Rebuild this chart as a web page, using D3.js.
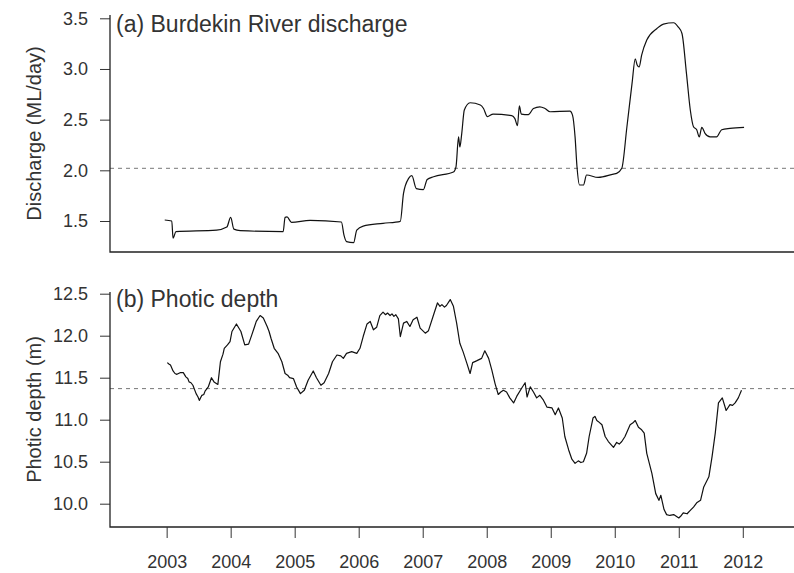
<!DOCTYPE html>
<html>
<head>
<meta charset="utf-8">
<script src="https://cdn.jsdelivr.net/npm/d3@7"></script>
<style>
  body { margin: 0; background: #fff; }
  text { font-family: "Liberation Sans", Arial, Helvetica, sans-serif; fill: #333; }
</style>
</head>
<body>
<svg id="chart" width="794" height="573"></svg>
<script>
// Axis ticks
const yearTicks = [2003, 2004, 2005, 2006, 2007, 2008, 2009, 2010, 2011, 2012];
const dischargeTicks = [1.5, 2.0, 2.5, 3.0, 3.5];
const depthTicks = [10.0, 10.5, 11.0, 11.5, 12.0, 12.5];

// Long-term reference levels (dashed lines)
const dischargeMean = 2.02;
const depthMean = 11.37;

// (a) Burdekin River discharge, decimal year and ML/day
const dischargeTime = [
  2002.97, 2003.08, 2003.10, 2003.145, 2003.78, 2003.94, 2004.00, 2004.05, 2004.15, 2004.82,
  2004.85, 2004.88, 2004.95, 2005.24, 2005.73, 2005.77, 2005.81, 2005.92, 2005.97, 2006.07,
  2006.38, 2006.65, 2006.70, 2006.78, 2006.83, 2006.90, 2007.01, 2007.07, 2007.17, 2007.48,
  2007.52, 2007.56, 2007.58, 2007.61, 2007.65, 2007.74, 2007.90, 2007.95, 2008.01, 2008.10,
  2008.39, 2008.44, 2008.48, 2008.51, 2008.54, 2008.65, 2008.73, 2008.83, 2008.91, 2008.99,
  2009.30, 2009.34, 2009.38, 2009.41, 2009.45, 2009.51, 2009.56, 2009.74, 2009.98, 2010.03,
  2010.11, 2010.19, 2010.27, 2010.32, 2010.35, 2010.38, 2010.42, 2010.50, 2010.66, 2010.76,
  2010.92, 2010.99, 2011.05, 2011.12, 2011.18, 2011.23, 2011.28, 2011.32, 2011.36, 2011.41,
  2011.49, 2011.59, 2011.67, 2011.80, 2012.02
];
const dischargeFlow = [
  1.51, 1.50, 1.33, 1.395, 1.41, 1.44, 1.536, 1.42, 1.405, 1.395,
  1.536, 1.54, 1.487, 1.507, 1.49, 1.36, 1.296, 1.286, 1.41, 1.45,
  1.477, 1.497, 1.773, 1.92, 1.947, 1.82, 1.81, 1.91, 1.937, 1.983,
  2.035, 2.33, 2.23, 2.365, 2.595, 2.667, 2.644, 2.61, 2.53, 2.555,
  2.54, 2.51, 2.44, 2.636, 2.555, 2.55, 2.61, 2.627, 2.61, 2.578,
  2.585, 2.545, 2.33, 2.035, 1.855, 1.855, 1.954, 1.93, 1.963, 1.97,
  2.02, 2.43, 2.858, 3.10, 3.04, 3.02, 3.137, 3.285, 3.40, 3.443,
  3.456, 3.416, 3.35, 2.957, 2.595, 2.43, 2.40, 2.33, 2.424, 2.365,
  2.33, 2.33, 2.40, 2.414, 2.424
];

// (b) Photic depth, decimal year and metres
const photicTime = [
  2003.01, 2003.04, 2003.06, 2003.10, 2003.13, 2003.16, 2003.21, 2003.26, 2003.30, 2003.33,
  2003.35, 2003.38, 2003.41, 2003.46, 2003.49, 2003.51, 2003.55, 2003.58, 2003.60, 2003.65,
  2003.70, 2003.74, 2003.80, 2003.84, 2003.88, 2003.90, 2003.95, 2003.99, 2004.02, 2004.09,
  2004.16, 2004.22, 2004.28, 2004.33, 2004.37, 2004.40, 2004.46, 2004.51, 2004.57, 2004.60,
  2004.63, 2004.68, 2004.74, 2004.80, 2004.85, 2004.89, 2004.92, 2004.98, 2005.03, 2005.09,
  2005.15, 2005.21, 2005.29, 2005.34, 2005.41, 2005.46, 2005.53, 2005.59, 2005.66, 2005.72,
  2005.76, 2005.81, 2005.89, 2005.97, 2006.02, 2006.07, 2006.13, 2006.18, 2006.23, 2006.28,
  2006.33, 2006.38, 2006.42, 2006.45, 2006.49, 2006.52, 2006.55, 2006.58, 2006.62, 2006.65,
  2006.70, 2006.75, 2006.80, 2006.85, 2006.91, 2006.96, 2007.04, 2007.09, 2007.17, 2007.23,
  2007.27, 2007.30, 2007.34, 2007.37, 2007.43, 2007.48, 2007.53, 2007.58, 2007.63, 2007.69,
  2007.74, 2007.78, 2007.84, 2007.92, 2007.97, 2008.03, 2008.08, 2008.13, 2008.18, 2008.22,
  2008.26, 2008.31, 2008.36, 2008.42, 2008.47, 2008.55, 2008.60, 2008.63, 2008.68, 2008.73,
  2008.78, 2008.83, 2008.88, 2008.94, 2009.02, 2009.07, 2009.12, 2009.18, 2009.22, 2009.28,
  2009.33, 2009.38, 2009.43, 2009.47, 2009.51, 2009.56, 2009.60, 2009.66, 2009.69, 2009.72,
  2009.74, 2009.80, 2009.85, 2009.90, 2009.98, 2010.03, 2010.07, 2010.11, 2010.16, 2010.24,
  2010.28, 2010.32, 2010.37, 2010.42, 2010.46, 2010.50, 2010.58, 2010.64, 2010.69, 2010.72,
  2010.77, 2010.81, 2010.86, 2010.92, 2010.96, 2011.00, 2011.04, 2011.07, 2011.13, 2011.18,
  2011.23, 2011.28, 2011.34, 2011.39, 2011.47, 2011.52, 2011.57, 2011.62, 2011.68, 2011.74,
  2011.80, 2011.84, 2011.88, 2011.93, 2011.98
];
const photicDepth = [
  11.68, 11.66, 11.65, 11.58, 11.55, 11.54, 11.56, 11.56, 11.51, 11.49,
  11.45, 11.44, 11.41, 11.31, 11.27, 11.23, 11.29, 11.30, 11.34, 11.39,
  11.50, 11.45, 11.42, 11.69, 11.78, 11.85, 11.89, 11.93, 12.05, 12.14,
  12.05, 11.89, 11.90, 12.01, 12.10, 12.17, 12.24, 12.21, 12.11, 12.05,
  11.97, 11.85, 11.79, 11.69, 11.55, 11.53, 11.50, 11.49, 11.39, 11.31,
  11.35, 11.47, 11.58, 11.50, 11.41, 11.44, 11.55, 11.69, 11.77, 11.76,
  11.73, 11.79, 11.81, 11.79, 11.85, 11.99, 12.14, 12.17, 12.07, 12.10,
  12.24, 12.28, 12.25, 12.27, 12.24, 12.26, 12.23, 12.25, 12.20, 11.99,
  12.15, 12.17, 12.11, 12.19, 12.22, 12.09, 12.03, 12.06, 12.25, 12.39,
  12.35, 12.37, 12.34, 12.36, 12.43, 12.35, 12.15, 11.91, 11.81, 11.67,
  11.55, 11.68, 11.70, 11.73, 11.82, 11.73, 11.59, 11.43, 11.30, 11.33,
  11.35, 11.33, 11.26, 11.20, 11.28, 11.38, 11.44, 11.27, 11.39, 11.33,
  11.26, 11.29, 11.24, 11.15, 11.14, 11.06, 11.14, 11.02, 10.80, 10.64,
  10.53, 10.48, 10.51, 10.49, 10.50, 10.60, 10.80, 11.02, 11.04, 10.99,
  10.98, 10.94, 10.80, 10.74, 10.67, 10.73, 10.71, 10.74, 10.80, 10.94,
  10.96, 10.99, 10.91, 10.88, 10.84, 10.60, 10.36, 10.12, 10.04, 10.10,
  9.93, 9.87, 9.86, 9.87, 9.85, 9.83, 9.86, 9.89, 9.88, 9.92,
  9.96, 10.01, 10.04, 10.20, 10.32, 10.56, 10.84, 11.20, 11.26, 11.11,
  11.18, 11.17, 11.20, 11.26, 11.35
];

const svg = d3.select("#chart");
const left = 110, right = 794;

const x = d3.scaleLinear().domain([2002.115, 2012.80]).range([left, right]);

// Panel frames (vertical extent of each plotting region)
const topPanel = { top: 15, bottom: 252 };
const botPanel = { top: 292, bottom: 527 };

const yTop = d3.scaleLinear().domain([1.5, 3.5]).range([221, 18.3]);
const yBot = d3.scaleLinear().domain([10.0, 12.5]).range([503.7, 293.7]);

function drawPanel(panel, y, ticks, times, values, mean, title, yTitle, titleBaseline, curve) {
  const g = svg.append("g");

  // Dashed reference level
  g.append("line")
    .attr("x1", left).attr("x2", right)
    .attr("y1", y(mean)).attr("y2", y(mean))
    .attr("stroke", "#777").attr("stroke-width", 1)
    .attr("stroke-dasharray", "4,4");

  // Series line
  const pts = times.map((t, i) => [t, values[i]]);
  g.append("path")
    .datum(pts)
    .attr("fill", "none")
    .attr("stroke", "#111")
    .attr("stroke-width", 1.2)
    .attr("stroke-linejoin", "round")
    .attr("d", d3.line().curve(curve).x(d => x(d[0])).y(d => y(d[1])));

  // Left axis
  const ax = g.append("g").attr("transform", `translate(${left},0)`)
    .call(d3.axisLeft(y).tickValues(ticks).tickFormat(d3.format(".1f")).tickSize(10).tickPadding(12));
  ax.select(".domain").remove();
  ax.selectAll(".tick line").attr("stroke", "#333");
  ax.selectAll(".tick text").attr("font-size", 18).attr("fill", "#333")
    .style("font-family", '"Liberation Sans", Arial, sans-serif');

  // L-shaped frame
  g.append("path")
    .attr("d", `M${left},${panel.top}V${panel.bottom}H${right}`)
    .attr("fill", "none").attr("stroke", "#222").attr("stroke-width", 1.3);

  // Panel title
  g.append("text")
    .attr("x", left + 6).attr("y", titleBaseline)
    .attr("font-size", 23)
    .text(title);

  // Y axis title
  const cy = (panel.top + panel.bottom) / 2;
  g.append("text")
    .attr("transform", `translate(41,${cy}) rotate(-90)`)
    .attr("text-anchor", "middle")
    .attr("font-size", 20)
    .text(yTitle);
}

drawPanel(topPanel, yTop, dischargeTicks, dischargeTime, dischargeFlow, dischargeMean,
  "(a) Burdekin River discharge", "Discharge (ML/day)", 32, d3.curveMonotoneX);
drawPanel(botPanel, yBot, depthTicks, photicTime, photicDepth, depthMean,
  "(b) Photic depth", "Photic depth (m)", 307, d3.curveLinear);

// Shared year axis under the lower panel
const xa = svg.append("g").attr("transform", `translate(0,${botPanel.bottom})`)
  .call(d3.axisBottom(x).tickValues(yearTicks).tickFormat(d3.format("d")).tickSize(11));
xa.select(".domain").remove();
xa.selectAll(".tick line").attr("stroke", "#333");
xa.selectAll(".tick text")
  .attr("font-size", 18).attr("fill", "#333")
  .attr("y", 41).attr("dy", null)
  .style("font-family", '"Liberation Sans", Arial, sans-serif');
</script>
</body>
</html>
